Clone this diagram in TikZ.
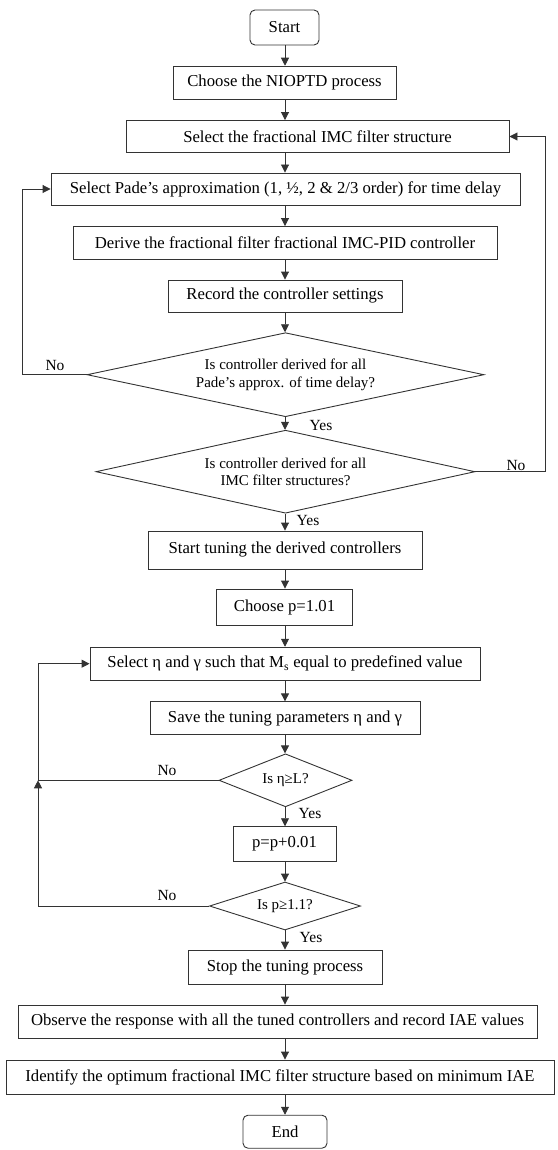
\documentclass[tikz,border=0pt]{standalone}
\usepackage{fontspec}
\setmainfont{Liberation Serif}
\usetikzlibrary{shapes.geometric,arrows.meta}
\begin{document}
\begin{tikzpicture}
[x=1pt,y=-1pt,
 nodedecorate/.style={shape=rectangle,inner sep=2pt,draw=black!80,line width=0.9pt,font=\fontsize{16.7}{19}\selectfont},%
 termdecorate/.style={nodedecorate,rounded corners=5pt},%
 decisiondecorate/.style={shape=diamond,inner sep=0pt,draw=black!80,line width=0.9pt,align=center,font=\fontsize{15}{17.5}\selectfont},%
 linedecorate/.style={-{Triangle[length=8pt,width=8pt]},line width=0.9pt,draw=black!80},%
 labeldecorate/.style={inner sep=0pt,font=\fontsize{15.5}{18}\selectfont}]
\useasboundingbox (0,0) rectangle (557,1150);
\coordinate (axis) at (285,0);
%% nodes or vertices
\node (start) at (284.5,27.5) [termdecorate,minimum width=69pt,minimum height=35pt] {Start};
\node (choose) at (284.5,82.7) [nodedecorate,minimum width=223pt,minimum height=33pt] {Choose the NIOPTD process};
\node (imcfilter) at (317.5,136.5) [nodedecorate,minimum width=383pt,minimum height=32pt] {Select the fractional IMC filter structure};
\node (pade) at (285.5,189) [nodedecorate,minimum width=469pt,minimum height=32pt] {Select Pade’s approximation (1, ½, 2 \& 2/3 order) for time delay};
\node (derive) at (285,243) [nodedecorate,minimum width=424pt,minimum height=33pt] {Derive the fractional filter fractional IMC-PID controller};
\node (record) at (285,296) [nodedecorate,minimum width=234pt,minimum height=32pt] {Record the controller settings};
\node (padecheck) at (285.5,374.7) [decisiondecorate,shape aspect=4.73,minimum width=397pt,minimum height=84pt] {Is controller derived for all\\Pade’s approx. of time delay?};
\node (imccheck) at (285.5,471.7) [decisiondecorate,shape aspect=4.57,minimum width=379pt,minimum height=83pt] {Is controller derived for all\\IMC filter structures?};
\node (starttune) at (285,550) [nodedecorate,minimum width=274pt,minimum height=38pt] {Start tuning the derived controllers};
\node (choosep) at (284.5,607) [nodedecorate,minimum width=136pt,minimum height=36pt] {Choose p=1.01};
\node (selecteta) at (285,663.7) [nodedecorate,minimum width=390pt,minimum height=33pt] {Select η and γ such that M\textsubscript{s} equal to predefined value};
\node (saveparam) at (285,718.3) [nodedecorate,minimum width=270pt,minimum height=33pt] {Save the tuning parameters η and γ};
\node (etacheck) at (285.5,780.3) [decisiondecorate,shape aspect=2.51,minimum width=133pt,minimum height=53pt] {Is η≥L?};
\node (pstep) at (284.5,844.2) [nodedecorate,minimum width=103pt,minimum height=35pt] {p=p+0.01};
\node (pcheck) at (285,906) [decisiondecorate,shape aspect=3.15,minimum width=151pt,minimum height=48pt] {Is p≥1.1?};
\node (stoptune) at (285,967) [nodedecorate,minimum width=194pt,minimum height=34pt] {Stop the tuning process};
\node (observe) at (277.5,1021.5) [nodedecorate,minimum width=519pt,minimum height=33pt] {Observe the response with all the tuned controllers and record IAE values};
\node (identify) at (280,1077) [nodedecorate,minimum width=548pt,minimum height=34pt] {Identify the optimum fractional IMC filter structure based on minimum IAE};
\node (finish) at (285,1131.7) [termdecorate,minimum width=84pt,minimum height=33pt] {End};
%% yes and no labels
\node (nopade) at (55,365) [labeldecorate] {No};
\node (noimc) at (516,465) [labeldecorate] {No};
\node (noeta) at (167,770) [labeldecorate] {No};
\node (nop) at (167,895) [labeldecorate] {No};
\node (yespade) at (321,425) [labeldecorate] {Yes};
\node (yesimc) at (308,520) [labeldecorate] {Yes};
\node (yeseta) at (310,813) [labeldecorate] {Yes};
\node (yesp) at (311,937) [labeldecorate] {Yes};
%% edges or lines
\foreach \startnode/\endnode in {start/choose, choose/imcfilter, imcfilter/pade,
 pade/derive, derive/record, record/padecheck, padecheck/imccheck,
 imccheck/starttune, starttune/choosep, choosep/selecteta, selecteta/saveparam,
 saveparam/etacheck, etacheck/pstep, pstep/pcheck, pcheck/stoptune,
 stoptune/observe, observe/identify, identify/finish}
{
  \draw[linedecorate] (\startnode.south -| axis) -- (\endnode.north -| axis);
}
%% loops back
\coordinate (padeloop) at (22,374.7);
\coordinate (imcloop) at (545,471.7);
\coordinate (etaloop) at (38,780.3);
\draw[linedecorate] (padecheck.west) -- (padeloop) |- (pade.west);
\draw[linedecorate] (imccheck.east) -- (imcloop) |- (imcfilter.east);
\draw[linedecorate] (pcheck.west) -| (etaloop);
\draw[linedecorate] (etacheck.west) -- (etaloop) |- (selecteta.west);
\end{tikzpicture}
\end{document}
